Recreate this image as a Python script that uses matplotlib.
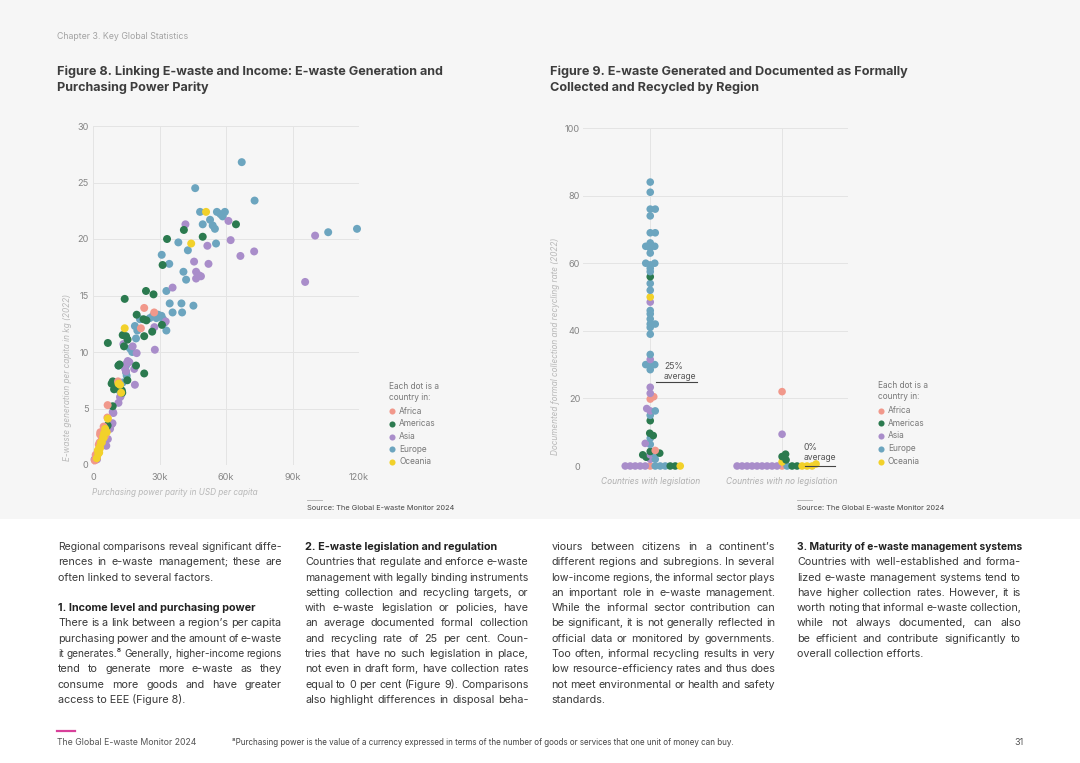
import matplotlib
matplotlib.use("Agg")
import matplotlib.pyplot as plt
from matplotlib.lines import Line2D
from matplotlib.patches import Rectangle
from matplotlib.ticker import FuncFormatter

plt.rcParams['font.family'] = ['Inter', 'DejaVu Sans']

# Figure 8: purchasing power parity (thousand USD) vs e-waste per capita (kg)
ppp_africa = [23.1, 27.6, 21.6, 6.6, 11.3, 4.8, 3.3, 3.0, 1.8, 1.0, 6.5, 3.2, 2.2, 1.5, 4.0, 2.6, 0.8, 1.2, 5.5]
ew_africa = [13.9, 13.5, 12.1, 5.3, 7.4, 3.4, 2.9, 2.0, 0.8, 0.5, 4.2, 2.7, 1.2, 0.7, 2.4, 1.8, 0.4, 0.9, 2.6]

ppp_americas = [64.5, 41.0, 49.5, 33.4, 31.4, 14.3, 23.9, 27.3, 6.7, 22.8, 24.1, 26.7, 23.1, 31.1, 19.7,
                13.4, 14.9, 15.6, 14.0, 11.5, 19.4, 23.1, 15.5, 8.9, 10.0, 9.5, 8.9, 6.6, 13.0, 9.2,
                8.4, 10.2, 13.2, 6.2, 12.0]
ew_americas = [21.3, 20.8, 20.2, 20.0, 17.7, 14.7, 15.4, 15.1, 10.8, 12.9, 12.8, 11.8, 11.4, 12.4, 13.3,
               11.5, 11.4, 11.1, 10.5, 8.8, 8.8, 8.1, 7.5, 7.4, 7.2, 6.7, 5.2, 3.5, 6.6, 7.3,
               7.2, 7.0, 6.4, 3.4, 8.9]

ppp_asia = [41.7, 61.1, 62.1, 51.6, 72.7, 66.5, 100.2, 95.7, 45.6, 52.1, 46.5, 47.7, 48.7, 46.5, 35.9,
            32.8, 27.7, 27.9, 13.7, 17.9, 15.7, 16.4, 14.5, 18.9, 12.5, 11.5, 8.9, 8.8, 6.7, 6.0,
            1.8, 8.4, 7.7, 0.7, 1.4, 15.2, 18.6, 19.7, 14.9, 12.2, 9.2]
ew_asia = [21.3, 21.6, 19.9, 19.4, 18.9, 18.5, 20.3, 16.2, 18.0, 17.8, 17.1, 16.8, 16.7, 16.5, 15.7,
           12.7, 12.2, 10.2, 10.7, 10.5, 9.2, 9.1, 8.5, 7.1, 6.1, 5.5, 4.7, 3.7, 2.3, 1.7,
           0.5, 3.6, 3.2, 0.5, 0.6, 9.0, 8.5, 9.9, 8.3, 6.0, 4.6]

ppp_europe = [67.1, 46.1, 72.9, 48.3, 55.9, 59.5, 57.5, 58.5, 52.8, 49.5, 54.0, 55.0, 106.1, 119.1, 55.5,
              38.5, 42.8, 31.0, 34.4, 40.8, 42.0, 33.1, 34.6, 35.9, 39.9, 40.2, 45.3, 29.4, 30.9, 31.6,
              32.3, 33.1, 25.6, 21.2, 18.9, 20.0, 19.4, 16.7, 17.7, 14.9, 14.9, 15.2, 11.5, 12.2, 13.4,
              10.7, 11.4, 11.9, 12.6, 28.6, 27.0]
ew_europe = [26.8, 24.5, 23.4, 22.4, 22.4, 22.4, 22.2, 22.0, 21.7, 21.3, 21.2, 20.9, 20.6, 20.9, 19.6,
             19.7, 19.0, 18.6, 17.8, 17.1, 16.4, 15.4, 14.3, 13.5, 14.3, 13.5, 14.1, 13.3, 13.2, 12.9,
             12.6, 11.9, 13.0, 12.9, 12.3, 11.9, 11.2, 10.3, 10.0, 8.8, 8.2, 7.9, 8.8, 6.8, 7.3,
             7.3, 6.9, 6.6, 6.3, 13.0, 13.2]

ppp_oceania = [51.0, 44.3, 14.3, 6.7, 12.2, 12.7, 4.8, 4.0, 3.0, 2.2, 5.5, 6.2, 4.6, 3.6, 3.2, 2.4, 1.7, 11.5, 5.0, 2.8]
ew_oceania = [22.4, 19.6, 12.1, 4.1, 7.1, 6.4, 2.4, 2.0, 1.6, 1.3, 3.2, 2.9, 2.5, 2.0, 1.5, 1.0, 0.6, 7.2, 2.8, 1.1]

# Figure 9: documented collection and recycling rate (%) by legislation status
rate_leg_europe = [84, 81, 76, 76, 74, 69, 69, 66, 65, 65, 64.5, 63, 60, 60, 59.5, 58.5, 57.5, 54, 52, 46,
                   45, 43.5, 42, 42, 41, 39, 33, 30, 30, 29.5, 28.5, 16.3, 15, 8.2, 6.4, 3.3, 2.0,
                   0, 0, 0]
rate_leg_americas = [56, 13.4, 9.7, 9.0, 4.3, 3.8, 3.3, 2.6, 0, 0]
rate_leg_asia = [48.5, 31.5, 23.3, 21.5, 17, 16.3, 6.7, 3.3, 2.0, 0, 0, 0, 0, 0]
rate_leg_africa = [20.5, 19.8, 4.6, 0]
rate_leg_oceania = [50, 0]

rate_nol_africa = [22, 0]
rate_nol_americas = [3.5, 2.8, 1.8, 0, 0]
rate_nol_asia = [9.4, 0, 0, 0, 0, 0, 0, 0, 0, 0]
rate_nol_europe = [0]
rate_nol_oceania = [1.2, 0.6, 0, 0, 0]

regions = ['Africa', 'Americas', 'Asia', 'Europe', 'Oceania']
colors = {'Africa': '#f1988b', 'Americas': '#2b7a4f', 'Asia': '#a98dca',
          'Europe': '#6ca5bf', 'Oceania': '#f2d12a'}
categories = ['Countries with legislation', 'Countries with no legislation']

W, H = 1080, 763


def fx(px):
    return px / W


def fy(py):
    return 1 - py / H


fig = plt.figure(figsize=(10.8, 7.63), dpi=100)
fig.patch.set_facecolor('white')
fig.add_artist(Rectangle((0, fy(519)), 1, 1 - fy(519), transform=fig.transFigure,
                         facecolor='#f6f6f6', edgecolor='none', zorder=-10))
renderer = fig.canvas.get_renderer()


def ftext(px, py, s, **kw):
    kw.setdefault('va', 'baseline')
    return fig.text(fx(px), fy(py), s, **kw)


def fit(t, width_px):
    w = t.get_window_extent(renderer).width
    t.set_fontsize(t.get_fontsize() * width_px / w)
    return t.get_fontsize()


def justify(text, x0, x1, yb, size, **kw):
    words = text.split(' ')
    while True:
        arts = [fig.text(0, fy(yb), w, fontsize=size, va='baseline', **kw) for w in words]
        widths = [a.get_window_extent(renderer).width for a in arts]
        gap = (x1 - x0 - sum(widths)) / (len(words) - 1)
        if gap >= 1.6 or size < 5:
            break
        for a in arts:
            a.remove()
        size -= 0.1
    x = x0
    for a, w in zip(arts, widths):
        a.set_x(fx(x))
        x += w + gap


# header / titles
t = ftext(57, 39, 'Chapter 3. Key Global Statistics', fontsize=6, color='#a3a3a3')
fit(t, 131)
t = ftext(57, 75.5, 'Figure 8. Linking E-waste and Income: E-waste Generation and',
          fontsize=9, fontweight='bold', color='#3d3d3d')
tsize = fit(t, 387)
ftext(57, 90.5, 'Purchasing Power Parity', fontsize=tsize, fontweight='bold', color='#3d3d3d')
ftext(550, 75.5, 'Figure 9. E-waste Generated and Documented as Formally',
      fontsize=tsize, fontweight='bold', color='#3d3d3d')
ftext(550, 90.5, 'Collected and Recycled by Region', fontsize=tsize, fontweight='bold', color='#3d3d3d')

# ---- Figure 8 scatter ----
ax1 = fig.add_axes([fx(93), fy(465), fx(359) - fx(93), fy(126) - fy(465)])
ax1.set_facecolor('none')
fig8 = {'Europe': (ppp_europe, ew_europe), 'Asia': (ppp_asia, ew_asia),
        'Americas': (ppp_americas, ew_americas), 'Africa': (ppp_africa, ew_africa),
        'Oceania': (ppp_oceania, ew_oceania)}
for name, (xs, ys) in fig8.items():
    ax1.scatter([v * 1000 for v in xs], ys, s=33, color=colors[name], edgecolors='none',
                clip_on=False, zorder=3)
ax1.set_xlim(0, 120000)
ax1.set_ylim(0, 30)
ax1.set_xticks([0, 30000, 60000, 90000, 120000])
ax1.set_yticks(range(0, 31, 5))
ax1.xaxis.set_major_formatter(FuncFormatter(lambda v, p: '0' if v == 0 else f'{int(v / 1000)}k'))
ax1.grid(True, color='#e4e4e4', lw=0.7)
ax1.set_axisbelow(True)
for sp in ax1.spines.values():
    sp.set_visible(False)
ax1.tick_params(length=0, labelsize=6.6, labelcolor='#858585')
ax1.tick_params(axis='x', pad=5.5)
ax1.tick_params(axis='y', pad=3.2)
ftext(67, 377, 'E-waste generation per capita in kg (2022)', rotation=90, va='center', ha='center',
      fontsize=5.9, fontstyle='italic', color='#b8b8b8')
ftext(92, 495, 'Purchasing power parity in USD per capita', fontsize=5.9, fontstyle='italic',
      color='#b8b8b8')

# ---- Figure 9 swarm ----
ax2 = fig.add_axes([fx(583), fy(466), fx(848) - fx(583), fy(128) - fy(466)])
ax2.set_facecolor('none')
ax2.set_xlim(-0.51, 1.5)
ax2.set_ylim(0, 100)

rank = {'Africa': 0, 'Asia': 1, 'Europe': 2, 'Americas': 3, 'Oceania': 4}


def swarm(ax, center, groups, dx=5.0, dy=3.3, step=0.5):
    pts = [(v, name) for name, vals in groups.items() for v in vals]
    pts.sort(key=lambda p: (p[0], rank[p[1]]))
    cx = ax.transData.transform((center, 0))[0]
    inv = ax.transData.inverted()
    offsets = [step * i for i in range(-200, 201)]
    placed, xs, ys, cs = [], [], [], []
    for v, name in pts:
        py = ax.transData.transform((center, v))[1]
        pref = -1 if name == 'Asia' else 1
        # the zero row keeps Asia on the left and the other regions on the right
        factor = 10 if v == 0 else 1
        cands = sorted(offsets, key=lambda o: (abs(o) * (1 if o * pref >= 0 else factor), -o * pref))
        for off in cands:
            px = cx + off
            if all(((px - qx) / dx) ** 2 + ((py - qy) / dy) ** 2 >= 1 for qx, qy in placed):
                break
        placed.append((px, py))
        xs.append(inv.transform((px, py))[0])
        ys.append(v)
        cs.append(colors[name])
    ax.scatter(xs, ys, s=30, c=cs, edgecolors='none', clip_on=False, zorder=3)


swarm(ax2, 0, {'Europe': rate_leg_europe, 'Americas': rate_leg_americas, 'Asia': rate_leg_asia,
               'Africa': rate_leg_africa, 'Oceania': rate_leg_oceania})
swarm(ax2, 1, {'Europe': rate_nol_europe, 'Americas': rate_nol_americas, 'Asia': rate_nol_asia,
               'Africa': rate_nol_africa, 'Oceania': rate_nol_oceania})

ax2.set_xticks([0, 1])
ax2.set_xticklabels(categories, fontstyle='italic', fontsize=6.0)
ax2.set_yticks(range(0, 101, 20))
ax2.grid(True, color='#e4e4e4', lw=0.7)
ax2.set_axisbelow(True)
for sp in ax2.spines.values():
    sp.set_visible(False)
ax2.tick_params(length=0)
ax2.tick_params(axis='y', labelsize=6.6, labelcolor='#858585', pad=2)
ax2.tick_params(axis='x', labelcolor='#b0b0b0', pad=8)
ftext(555, 346, 'Documented formal collection and recycling rate (2022)', rotation=90, va='center',
      ha='center', fontsize=5.9, fontstyle='italic', color='#b8b8b8')

# average markers
ax2.plot([0.04, 0.355], [25, 25], color='#444444', lw=0.8, clip_on=False, zorder=4)
ax2.plot([1.175, 1.40], [0, 0], color='#444444', lw=0.8, clip_on=False, zorder=4)
ftext(664, 369, '25%', fontsize=6.2, color='#555555')
ftext(664, 379, 'average', fontsize=6.2, color='#555555')
ftext(803.5, 450, '0%', fontsize=6.2, color='#555555')
ftext(803.5, 460, 'average', fontsize=6.2, color='#555555')


# legends
def legend(px, head_y, first_y, step=12.7):
    ftext(px, head_y, 'Each dot is a', fontsize=6.0, color='#777777')
    ftext(px, head_y + 11, 'country in:', fontsize=6.0, color='#777777')
    for j, name in enumerate(regions):
        yy = first_y + step * j
        fig.add_artist(Line2D([fx(px + 3.3)], [fy(yy)], marker='o', ms=4.4, color=colors[name],
                              mec='none', transform=fig.transFigure))
        ftext(px + 10, yy + 2.3, name, fontsize=6.0, color='#777777')


legend(389, 389, 411.2)
legend(878, 388.3, 410.7)

# sources
for sx in (307, 797):
    fig.add_artist(Line2D([fx(sx), fx(sx + 15)], [fy(500.5)] * 2, color='#bbbbbb', lw=0.7,
                          transform=fig.transFigure))
    t = ftext(sx, 510.5, 'Source: The Global E-waste Monitor 2024', fontsize=5.4, color='#444444')
    fit(t, 147)

# ---- body text ----
body_size = 7.8
lead = 15.3
cols = [
    (58, 282, [
        ('j', 'Regional comparisons reveal significant diffe-'),
        ('j', 'rences in e-waste management; these are'),
        ('l', 'often linked to several factors.'),
        (None, ''),
        ('b', '1. Income level and purchasing power'),
        ('j', 'There is a link between a region’s per capita'),
        ('j', 'purchasing power and the amount of e-waste'),
        ('j', 'it generates.⁸ Generally, higher-income regions'),
        ('j', 'tend to generate more e-waste as they'),
        ('j', 'consume more goods and have greater'),
        ('l', 'access to EEE (Figure 8).'),
    ]),
    (305, 528.5, [
        ('b', '2. E-waste legislation and regulation'),
        ('j', 'Countries that regulate and enforce e-waste'),
        ('j', 'management with legally binding instruments'),
        ('j', 'setting collection and recycling targets, or'),
        ('j', 'with e-waste legislation or policies, have'),
        ('j', 'an average documented formal collection'),
        ('j', 'and recycling rate of 25 per cent. Coun-'),
        ('j', 'tries that have no such legislation in place,'),
        ('j', 'not even in draft form, have collection rates'),
        ('j', 'equal to 0 per cent (Figure 9). Comparisons'),
        ('j', 'also highlight differences in disposal beha-'),
    ]),
    (551.5, 775, [
        ('j', 'viours between citizens in a continent’s'),
        ('j', 'different regions and subregions. In several'),
        ('j', 'low-income regions, the informal sector plays'),
        ('j', 'an important role in e-waste management.'),
        ('j', 'While the informal sector contribution can'),
        ('j', 'be significant, it is not generally reflected in'),
        ('j', 'official data or monitored by governments.'),
        ('j', 'Too often, informal recycling results in very'),
        ('j', 'low resource-efficiency rates and thus does'),
        ('j', 'not meet environmental or health and safety'),
        ('l', 'standards.'),
    ]),
    (797, 1021, [
        ('b', '3. Maturity of e-waste management systems'),
        ('j', 'Countries with well-established and forma-'),
        ('j', 'lized e-waste management systems tend to'),
        ('j', 'have higher collection rates. However, it is'),
        ('j', 'worth noting that informal e-waste collection,'),
        ('j', 'while not always documented, can also'),
        ('j', 'be efficient and contribute significantly to'),
        ('l', 'overall collection efforts.'),
    ]),
]
for x0, x1, lines in cols:
    for i, (style, line) in enumerate(lines):
        yb = 550 + lead * i
        if style == 'j':
            justify(line, x0, x1, yb, body_size, color='#3a3a3a')
        elif style == 'l':
            ftext(x0, yb, line, fontsize=body_size, color='#3a3a3a')
        elif style == 'b':
            t = ftext(x0, yb, line, fontsize=body_size, fontweight='bold', color='#222222')
            if t.get_window_extent(renderer).width > x1 - x0:
                fit(t, x1 - x0)

# footer
fig.add_artist(Line2D([fx(57), fx(75)], [fy(731)] * 2, color='#d8409a', lw=1.6,
                      transform=fig.transFigure))
t = ftext(57, 745, 'The Global E-waste Monitor 2024', fontsize=6.5, color='#555555')
fit(t, 140)
t = ftext(232, 745, '⁸Purchasing power is the value of a currency expressed in terms of the number of '
          'goods or services that one unit of money can buy.', fontsize=5.5, color='#444444')
fit(t, 507)
ftext(1014, 745, '31', fontsize=6.5, color='#555555')

fig.savefig('out.png', dpi=100, facecolor=fig.get_facecolor())
